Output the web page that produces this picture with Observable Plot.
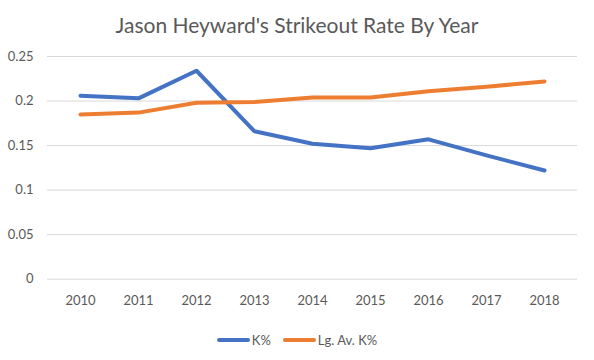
<!DOCTYPE html>
<html>
<head>
<meta charset="utf-8">
<script src="https://cdn.jsdelivr.net/npm/d3@7"></script>
<script src="https://cdn.jsdelivr.net/npm/@observablehq/plot@0.6"></script>
<style>
  html, body { margin: 0; padding: 0; background: #fff; }
  body { width: 594px; height: 360px; overflow: hidden; font-family: Lato, "Open Sans", sans-serif; color: #595959; }
  #title { height: 46px; line-height: 50px; text-align: center; font-size: 21px; color: #595959; white-space: nowrap; }
  #chart svg { display: block; }
  #legend { display: flex; justify-content: center; align-items: center; gap: 12px; font-size: 13px; color: #595959; margin-top: 12px; }
  .item { display: flex; align-items: center; }
  .swatch { width: 33px; height: 4px; border-radius: 2px; margin-right: 2px; }
</style>
</head>
<body>
<div id="title">Jason Heyward's Strikeout Rate By Year</div>
<div id="chart"></div>
<div id="legend"></div>
<script>
const years = ["2010","2011","2012","2013","2014","2015","2016","2017","2018"];
const kPct = [0.206, 0.203, 0.234, 0.166, 0.152, 0.147, 0.157, 0.139, 0.122];
const lgAvgKPct = [0.185, 0.187, 0.198, 0.199, 0.204, 0.204, 0.211, 0.216, 0.222];
const seriesNames = ["K%", "Lg. Av. K%"];
const seriesColors = ["#4472C4", "#ED7D31"];
const yTicks = [0, 0.05, 0.1, 0.15, 0.2, 0.25];
const yTickLabels = ["0", "0.05", "0.1", "0.15", "0.2", "0.25"];

const rows = [];
years.forEach((y, i) => {
  rows.push({year: y, value: kPct[i], series: seriesNames[0]});
  rows.push({year: y, value: lgAvgKPct[i], series: seriesNames[1]});
});

const plot = Plot.plot({
  width: 594,
  height: 274,
  marginTop: 10,
  marginBottom: 41.3,
  marginLeft: 47,
  marginRight: 17,
  style: {fontFamily: "Lato, 'Open Sans', sans-serif", fontSize: "13px", color: "#595959", background: "#fff"},
  x: {type: "band", domain: years, padding: 0, label: null},
  y: {domain: [0, 0.25], label: null},
  color: {domain: seriesNames, range: seriesColors},
  marks: [
    Plot.ruleY(yTicks, {stroke: "#d9d9d9", strokeWidth: 1}),
    Plot.axisX({tickSize: 0, tickPadding: 17, label: null, fill: "#595959"}),
    Plot.axisY({ticks: yTicks, tickFormat: (d) => yTickLabels[yTicks.indexOf(d)], tickSize: 0, tickPadding: 14, label: null, fill: "#595959"}),
    Plot.line(rows, {x: "year", y: "value", z: "series", stroke: "series", strokeWidth: 4, strokeLinecap: "round", strokeLinejoin: "round"})
  ]
});
document.getElementById("chart").appendChild(plot);

const legend = document.getElementById("legend");
seriesNames.forEach((name, i) => {
  const item = document.createElement("div");
  item.className = "item";
  const sw = document.createElement("span");
  sw.className = "swatch";
  sw.style.background = seriesColors[i];
  const label = document.createElement("span");
  label.textContent = name;
  item.appendChild(sw);
  item.appendChild(label);
  legend.appendChild(item);
});
</script>
</body>
</html>
